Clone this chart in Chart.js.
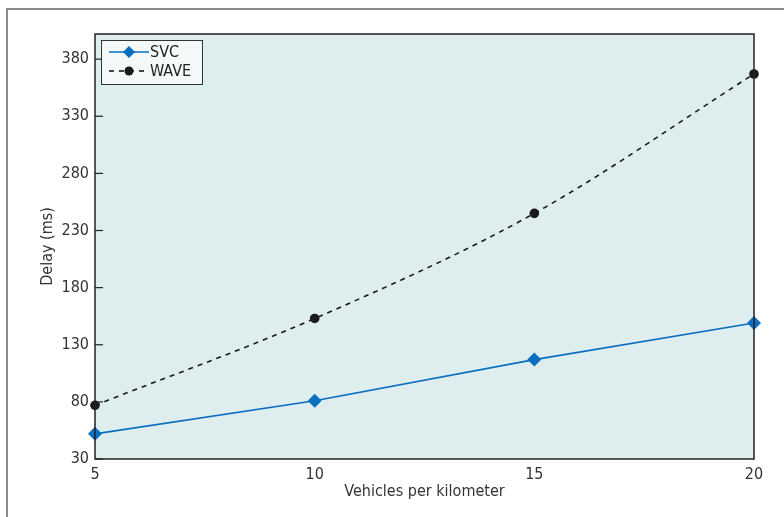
<!DOCTYPE html>
<html>
<head>
<meta charset="utf-8">
<script src="https://cdn.jsdelivr.net/npm/chart.js@4/dist/chart.umd.min.js"></script>
<style>
  html, body { margin: 0; padding: 0; background: #fff; }
  #wrap { width: 784px; height: 517px; }
</style>
</head>
<body>
<div id="wrap"><canvas id="grafico" width="784" height="517"></canvas></div>
<script>
const vehicles = [5, 10, 15, 20];
const svcDelay = [52, 81, 117, 149];
const waveDelay = [77, 153, 245, 367];
const yTicks = [30, 80, 130, 180, 230, 280, 330, 380];
const xTicks = [5, 10, 15, 20];

const FONT = '"Liberation Sans Narrow", "DejaVu Sans Condensed", "Roboto", sans-serif';

// frame, plot background, inward ticks and the boxed legend
const decorazioni = {
    id: 'decorazioni',
    beforeDraw(chart) {
        const { ctx, chartArea: a } = chart;
        ctx.save();
        ctx.fillStyle = '#ffffff';
        ctx.fillRect(0, 0, chart.width, chart.height);
        ctx.strokeStyle = '#8a8a8a';
        ctx.lineWidth = 2;
        ctx.beginPath();
        ctx.moveTo(7, chart.height);
        ctx.lineTo(7, 9);
        ctx.lineTo(chart.width, 9);
        ctx.stroke();
        ctx.fillStyle = '#deeded';
        ctx.fillRect(a.left, a.top, a.right - a.left, a.bottom - a.top);
        ctx.restore();
    },
    afterDatasetsDraw(chart) {
        const { ctx, chartArea: a, scales } = chart;
        ctx.save();
        ctx.strokeStyle = '#222';
        ctx.lineWidth = 1.5;
        ctx.strokeRect(a.left, a.top, a.right - a.left, a.bottom - a.top);
        ctx.lineWidth = 1.2;
        yTicks.forEach(v => {
            const y = scales.y.getPixelForValue(v);
            ctx.beginPath();
            ctx.moveTo(a.left, y);
            ctx.lineTo(a.left + 8, y);
            ctx.stroke();
        });

        // legend
        const lx = 101, ly = 40, lw = 101, lh = 44;
        ctx.fillStyle = '#f3f8f8';
        ctx.fillRect(lx, ly, lw, lh);
        ctx.strokeStyle = '#333';
        ctx.lineWidth = 1;
        ctx.strokeRect(lx + 0.5, ly + 0.5, lw, lh);
        chart.data.datasets.forEach((ds, i) => {
            const y = ly + 12 + i * 19;
            ctx.strokeStyle = ds.borderColor;
            ctx.lineWidth = ds.borderWidth;
            ctx.setLineDash(ds.borderDash || []);
            ctx.beginPath();
            ctx.moveTo(lx + 8, y);
            ctx.lineTo(lx + 48, y);
            ctx.stroke();
            ctx.setLineDash([]);
            ctx.fillStyle = ds.pointBackgroundColor;
            ctx.beginPath();
            if (ds.pointStyle === 'rectRot') {
                ctx.moveTo(lx + 28, y - 6);
                ctx.lineTo(lx + 34, y);
                ctx.lineTo(lx + 28, y + 6);
                ctx.lineTo(lx + 22, y);
                ctx.closePath();
            } else {
                ctx.arc(lx + 28, y, 4.5, 0, Math.PI * 2);
            }
            ctx.fill();
            ctx.fillStyle = '#222';
            ctx.font = '16px ' + FONT;
            ctx.textBaseline = 'middle';
            ctx.fillText(ds.label, lx + 49, y + 1);
        });
        ctx.restore();
    }
};

new Chart(document.getElementById('grafico').getContext('2d'), {
    type: 'line',
    data: {
        datasets: [
            {
                label: 'SVC',
                data: vehicles.map((x, i) => ({ x: x, y: svcDelay[i] })),
                borderColor: '#0a6fc0',
                borderWidth: 1.6,
                pointStyle: 'rectRot',
                pointRadius: 7,
                pointBackgroundColor: '#0a6fc0',
                pointBorderColor: '#0a6fc0',
                pointBorderWidth: 0,
                clip: false
            },
            {
                label: 'WAVE',
                data: vehicles.map((x, i) => ({ x: x, y: waveDelay[i] })),
                borderColor: '#1a1a1a',
                borderWidth: 1.6,
                borderDash: [5, 5],
                cubicInterpolationMode: 'monotone',
                pointStyle: 'circle',
                pointRadius: 4.8,
                pointBackgroundColor: '#1a1a1a',
                pointBorderColor: '#1a1a1a',
                pointBorderWidth: 0,
                clip: false
            }
        ]
    },
    options: {
        responsive: false,
        animation: false,
        layout: { padding: { left: 0, right: 30, top: 34, bottom: 0 } },
        plugins: {
            legend: { display: false },
            tooltip: { enabled: false }
        },
        scales: {
            x: {
                type: 'linear',
                min: 5,
                max: 20,
                afterBuildTicks: s => { s.ticks = xTicks.map(v => ({ value: v })); },
                afterFit: s => { s.height = 58; },
                grid: { display: false, drawTicks: false },
                border: { display: false },
                ticks: { color: '#333', font: { family: FONT, size: 16 }, padding: 6 },
                title: {
                    display: true,
                    text: 'Vehicles per kilometer',
                    color: '#333',
                    font: { family: FONT, size: 16 },
                    padding: { top: 0, bottom: 16 }
                }
            },
            y: {
                min: 30,
                max: 402,
                afterBuildTicks: s => { s.ticks = yTicks.map(v => ({ value: v })); },
                afterFit: s => { s.width = 95; },
                grid: { display: false, drawTicks: false },
                border: { display: false },
                ticks: { color: '#333', font: { family: FONT, size: 16 }, padding: 6 },
                title: {
                    display: true,
                    text: 'Delay (ms)',
                    color: '#333',
                    font: { family: FONT, size: 16 },
                    padding: { top: 38, bottom: 0 }
                }
            }
        }
    },
    plugins: [decorazioni]
});
</script>
</body>
</html>
